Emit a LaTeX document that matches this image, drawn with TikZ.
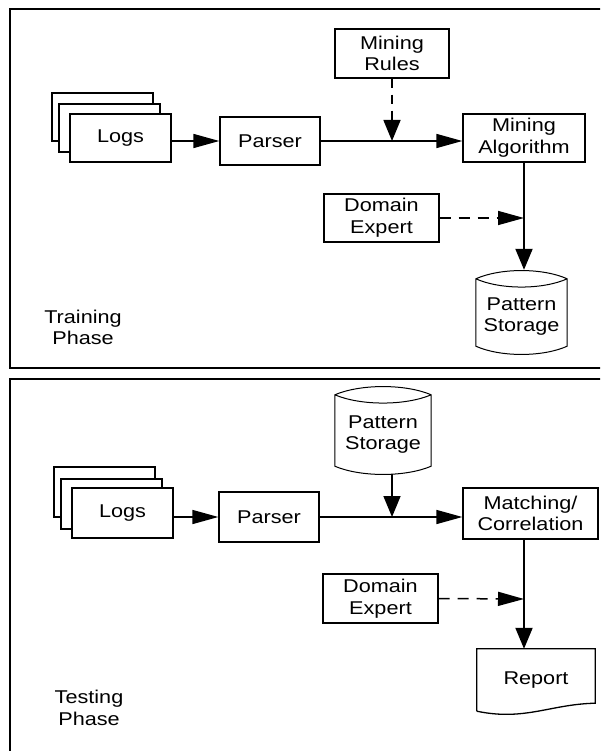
\documentclass[tikz,border=0pt]{standalone}
\usepackage{fontspec}
\setmainfont{Liberation Sans}[FakeStretch=1.17]
\usetikzlibrary{arrows.meta,calc}

\tikzset{
		box/.style={draw,line width=1.3pt,fill=white,align=center,inner sep=0pt,
			font=\fontsize{18.5}{21.7}\selectfont},
		drumbox/.style={align=center,inner sep=0pt,
			font=\fontsize{18.5}{21.7}\selectfont},
		phase/.style={align=center,inner sep=0pt,
			font=\fontsize{18.5}{21.7}\selectfont},
		frame/.style={line width=1.8pt},
		flowright/.style={line width=1.5pt,-{Triangle[length=26pt,width=14pt]}},
		flowdown/.style={line width=2pt,-{Triangle[length=21pt,width=17pt]}},
		hintright/.style={flowright,dash pattern=on 11pt off 8pt},
		hintdown/.style={flowdown,line width=1.6pt,dash pattern=on 9pt off 7pt}
	}

% outline of a storage drum round a named node
\newcommand{\drum}[1]{%
	\draw[line width=1pt]
		(#1.north west)
		.. controls ($(#1.north west)!0.27!(#1.north east)+(0,-11)$)
		and ($(#1.north west)!0.73!(#1.north east)+(0,-11)$) .. (#1.north east)
		-- ($(#1.south east)+(0,-8)$)
		.. controls ($(#1.south east)!0.27!(#1.south west)+(0,3)$)
		and ($(#1.south east)!0.73!(#1.south west)+(0,3)$) .. ($(#1.south west)+(0,-8)$)
		-- cycle
		(#1.north west)
		.. controls ($(#1.north west)!0.27!(#1.north east)+(0,11)$)
		and ($(#1.north west)!0.73!(#1.north east)+(0,11)$) .. (#1.north east);
}

\begin{document}
\begin{tikzpicture}[x=1pt,y=-1pt]
				\clip (0,0) rectangle (600,751);

				% training phase
				\draw[frame] (10,9) rectangle (620,368);
				\node[phase] (train) at (83,327.5) {Training\\Phase};

				\node[box,minimum width=101pt,minimum height=48pt] (logsC1) at (102.5,117) {};
				\node[box,minimum width=101pt,minimum height=48pt] (logsB1) at (109.5,128) {};
				\node[box,minimum width=101pt,minimum height=48pt] (logs1) at (120.5,138) {Logs};
				\node[box,minimum width=100pt,minimum height=48pt] (parser1) at (270,141) {Parser};
				\node[box,minimum width=114pt,minimum height=49pt] (rules) at (392,53.5) {Mining\\Rules};
				\node[box,minimum width=122pt,minimum height=48pt] (mining) at (524,138) {Mining\\Algorithm};
				\node[box,minimum width=115pt,minimum height=48pt] (expert1) at (381.5,218) {Domain\\Expert};
				\node[drumbox,minimum width=91pt,minimum height=75pt] (store1) at (521.5,316.5) {Pattern\\Storage};
				\drum{store1}

				\coordinate (hit1) at (rules.south |- parser1.east);
				\coordinate (v1) at (mining.south |- expert1.east);

				\draw[flowright] (logs1.east |- parser1.west) -- (parser1.west);
				\draw[flowright] (parser1.east) -- (parser1.east -| mining.west);
				\draw[hintdown] (rules.south) -- (hit1);
				\draw[flowdown] (mining.south) -- ([yshift=9pt]store1.north -| v1);
				\draw[hintright] (expert1.east) -- (v1);

				% testing phase
				\draw[frame] (10,379) rectangle (620,770);
				\node[phase] (test) at (89,708) {Testing\\Phase};

				\node[box,minimum width=101pt,minimum height=50pt] (logsC2) at (104.5,492) {};
				\node[box,minimum width=101pt,minimum height=50pt] (logsB2) at (111.5,504) {};
				\node[box,minimum width=101pt,minimum height=50pt] (logs2) at (122.5,513) {Logs};
				\node[box,minimum width=100pt,minimum height=50pt] (parser2) at (269,517) {Parser};
				\node[drumbox,minimum width=96pt,minimum height=79pt] (store2) at (383,434.5) {Pattern\\Storage};
				\drum{store2}
				\node[box,minimum width=135pt,minimum height=51pt] (match) at (530.5,513.5) {Matching/\\Correlation};
				\node[box,minimum width=115pt,minimum height=49pt] (expert2) at (380.5,598.5) {Domain\\Expert};
				\node[drumbox,minimum width=118pt,minimum height=62pt] (report) at (536,680) {Report};
				\draw[line width=1.3pt] (report.south west) -- (report.north west)
					-- (report.north east) -- ($(report.south east)+(0,-8)$)
					.. controls ($(report.south east)+(-45,-7)$) and ($(report.south west)+(48,10)$)
					.. (report.south west);

				\coordinate (hit2) at (392,517);
				\coordinate (v2) at (524,599);

				\draw[flowright] (logs2.east |- parser2.west) -- (parser2.west);
				\draw[flowright] (parser2.east) -- (parser2.east -| match.west);
				\draw[flowdown,line width=1.6pt] (hit2 |- store2.south) -- (hit2);
				\draw[flowdown] (v2 |- match.south) -- (v2 |- report.north);
				\draw[hintright] (expert2.east) -- (v2);
			\end{tikzpicture}
\end{document}
